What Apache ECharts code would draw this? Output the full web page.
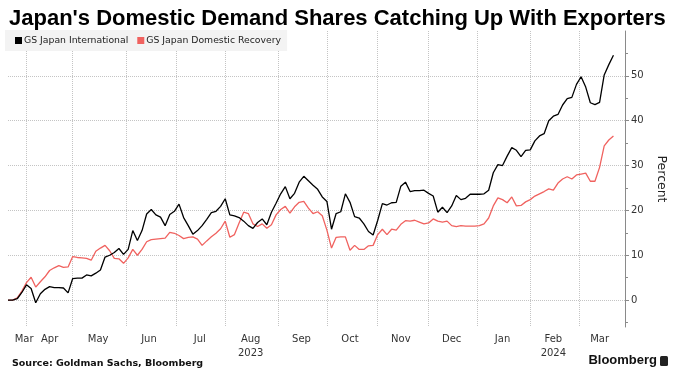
<!DOCTYPE html>
<html>
<head>
<meta charset="utf-8">
<script src="https://cdn.jsdelivr.net/npm/echarts@6/dist/echarts.min.js"></script>
<style>
html,body{margin:0;padding:0;background:#fff;}
#chart{width:682px;height:390px;}
</style>
</head>
<body>
<div id="chart"></div>
<script>
// ---- data ----
const startDate = '2023-03-22';
const endDate = '2024-03-29';
const seriesNames = ['GS Japan International', 'GS Japan Domestic Recovery'];
// values every 2nd business day from 2023-03-22 to 2024-03-22 (percent)
const intlValues = [
  0, 0, 0.3, 1.7, 3.4, 2.6, -0.6, 1.4, 2.4, 3.0,
  2.8, 2.8, 2.7, 1.6, 4.8, 4.9, 4.9, 5.6, 5.4, 6.0,
  6.7, 9.6, 10.0, 10.6, 11.5, 10.2, 11.3, 15.5, 13.3, 15.5,
  19.2, 20.2, 19.0, 18.5, 16.6, 19.1, 19.8, 21.4, 18.4, 16.6,
  14.7, 15.5, 16.6, 18.0, 19.5, 19.8, 20.9, 22.6, 19.0, 18.8,
  18.4, 17.6, 16.6, 16.0, 17.3, 18.1, 16.8, 19.6, 21.6, 23.7,
  25.3, 22.6, 23.8, 26.3, 27.6, 26.6, 25.6, 24.7, 23.0, 22.0,
  15.8, 19.3, 19.7, 23.7, 21.8, 18.6, 18.3, 17.0, 15.3, 14.5,
  17.8, 21.5, 21.2, 21.7, 21.8, 25.4, 26.3, 24.2, 24.4, 24.4,
  24.5, 23.8, 23.2, 19.6, 20.7, 19.5, 21.0, 23.3, 22.4, 22.7,
  23.6, 23.6, 23.6, 23.7, 24.5, 28.4, 30.2, 30.0, 32.1, 34.0,
  33.4, 32.0, 33.4, 33.5, 35.5, 36.6, 37.1, 40.0, 41.0, 41.4,
  43.5, 44.9, 45.2, 48.1, 49.8, 47.5, 44.0, 43.6, 44.1, 50.2,
  52.5, 54.6
];
const domValues = [
  0, 0, 0.5, 2.0, 3.9, 5.1, 2.9, 4.1, 5.2, 6.6,
  7.2, 7.7, 7.3, 7.4, 9.7, 9.5, 9.4, 9.3, 8.9, 10.9,
  11.6, 12.2, 11.0, 9.3, 9.2, 8.2, 9.4, 11.3, 10.0, 11.3,
  13.0, 13.5, 13.6, 13.7, 13.8, 15.1, 14.9, 14.4, 13.7, 14.0,
  14.1, 13.6, 12.2, 13.2, 14.1, 14.9, 15.9, 17.6, 14.0, 14.6,
  17.2, 19.6, 19.3, 17.0, 16.4, 17.0, 16.0, 16.8, 19.0, 20.2,
  20.9, 19.4, 20.8, 21.8, 22.0, 20.5, 19.3, 19.7, 18.8, 15.6,
  11.6, 14.0, 14.1, 14.1, 11.1, 12.2, 11.3, 11.3, 12.1, 12.2,
  14.6, 15.8, 14.6, 15.8, 15.6, 16.9, 17.7, 17.6, 17.8, 17.4,
  17.0, 17.2, 18.1, 17.6, 17.4, 17.6, 16.6, 16.4, 16.6, 16.5,
  16.5, 16.5, 16.6, 17.0, 18.3, 21.0, 22.8, 22.4, 21.7, 23.0,
  21.0, 21.1, 21.9, 22.4, 23.2, 23.7, 24.2, 24.8, 24.5, 26.1,
  27.0, 27.5, 27.0, 27.9, 28.1, 28.3, 26.5, 26.5, 29.6, 34.4,
  35.7, 36.6
];
const yTickLabels = [0, 10, 20, 30, 40, 50];
const yMinorTicks = [-5, 5, 15, 25, 35, 45, 55];
const monthLabelDays = ['2023-03-31','2023-04-17','2023-05-16','2023-06-15','2023-07-17','2023-08-16',
  '2023-09-15','2023-10-16','2023-11-15','2023-12-15','2024-01-16','2024-02-15','2024-03-14'];
const yearLabels = {'2023-08-16': '2023', '2024-02-15': '2024'};
const monthNames = ['Jan','Feb','Mar','Apr','May','Jun','Jul','Aug','Sep','Oct','Nov','Dec'];

// ---- build business-day categories ----
function fmt(d){
  const m = d.getUTCMonth()+1, day = d.getUTCDate();
  return d.getUTCFullYear() + '-' + (m<10?'0':'') + m + '-' + (day<10?'0':'') + day;
}
const days = [];
for (let d = new Date(startDate + 'T00:00:00Z'); fmt(d) <= endDate; d.setUTCDate(d.getUTCDate()+1)) {
  const wd = d.getUTCDay();
  if (wd !== 0 && wd !== 6) days.push(fmt(d));
}
const labelSet = new Set(monthLabelDays);
const monthStart = new Set();
for (let i = 1; i < days.length; i++) {
  if (days[i].slice(5,7) !== days[i-1].slice(5,7)) monthStart.add(i);
}
const intlData = intlValues.map((v,i) => [days[2*i], v]);
const domData = domValues.map((v,i) => [days[2*i], v]);

const FONT = 'DejaVu Sans';
const chart = echarts.init(document.getElementById('chart'), null, {renderer:'canvas'});
chart.setOption({
  animation: false,
  backgroundColor: '#fff',
  title: {
    text: "Japan's Domestic Demand Shares Catching Up With Exporters",
    left: 4, top: 3,
    textStyle: {fontFamily: 'Liberation Sans', fontWeight: 'bold', fontSize: 22, color: '#000'}
  },
  legend: {
    left: 5, top: 30,
    data: seriesNames,
    icon: 'rect', itemWidth: 7, itemHeight: 7, itemGap: 9,
    padding: [6, 6, 6, 10],
    backgroundColor: '#f3f3f3',
    textStyle: {fontFamily: FONT, fontSize: 9.3, color: '#222', padding: [0,0,0,-3]}
  },
  grid: {left: 8, right: 57, top: 31, bottom: 63, containLabel: false},
  xAxis: {
    type: 'category', data: days, boundaryGap: false,
    axisLine: {show: false}, axisTick: {show: false},
    axisLabel: {
      interval: (i, v) => labelSet.has(v),
      formatter: v => monthNames[+v.slice(5,7)-1] + (yearLabels[v] ? '\n' + yearLabels[v] : ''),
      fontFamily: FONT, fontSize: 10, color: '#333', margin: 5, lineHeight: 14
    },
    splitLine: {show: true, interval: (i) => monthStart.has(i), lineStyle: {type: 'dotted', color: '#c4c4c4', width: 1}}
  },
  yAxis: [{
    type: 'value', position: 'right', min: -6, max: 60,
    axisLine: {show: true, lineStyle: {color: '#8a8a8a', width: 1}},
    axisTick: {show: true, customValues: yTickLabels, length: 4, lineStyle: {color: '#8a8a8a'}},
    axisLabel: {customValues: yTickLabels, margin: 6, fontFamily: FONT, fontSize: 10, color: '#333'},
    splitLine: {show: true, lineStyle: {type: 'dotted', color: '#c4c4c4', width: 1}},
    name: 'Percent', nameLocation: 'middle', nameRotate: -90, nameGap: 27,
    nameTextStyle: {fontFamily: FONT, fontSize: 12.5, color: '#222'}
  }, {
    type: 'value', position: 'right', min: -6, max: 60,
    axisLine: {show: false},
    axisTick: {show: true, customValues: yMinorTicks, length: 3, lineStyle: {color: '#8a8a8a'}},
    axisLabel: {show: false}, splitLine: {show: false}
  }],
  series: [{
    name: seriesNames[0], type: 'line', data: intlData, showSymbol: false, symbol: 'none', z: 4,
    lineStyle: {color: '#000', width: 1.3}, itemStyle: {color: '#000'}
  }, {
    name: seriesNames[1], type: 'line', data: domData, showSymbol: false, symbol: 'none', z: 3,
    lineStyle: {color: '#f0625f', width: 1.3}, itemStyle: {color: '#f0625f'}
  }],
  graphic: [{
    type: 'text', left: 12, top: 359,
    style: {text: 'Source: Goldman Sachs, Bloomberg', font: 'bold 9.5px "DejaVu Sans"', fill: '#111'}
  }, {
    type: 'text', right: 25, top: 354,
    style: {text: 'Bloomberg', font: 'bold 13px "Liberation Sans"', fill: '#111'}
  }, {
    type: 'rect', right: 14, top: 356, shape: {width: 8, height: 10, r: 1.5}, style: {fill: '#222'}
  }]
});
</script>
</body>
</html>
